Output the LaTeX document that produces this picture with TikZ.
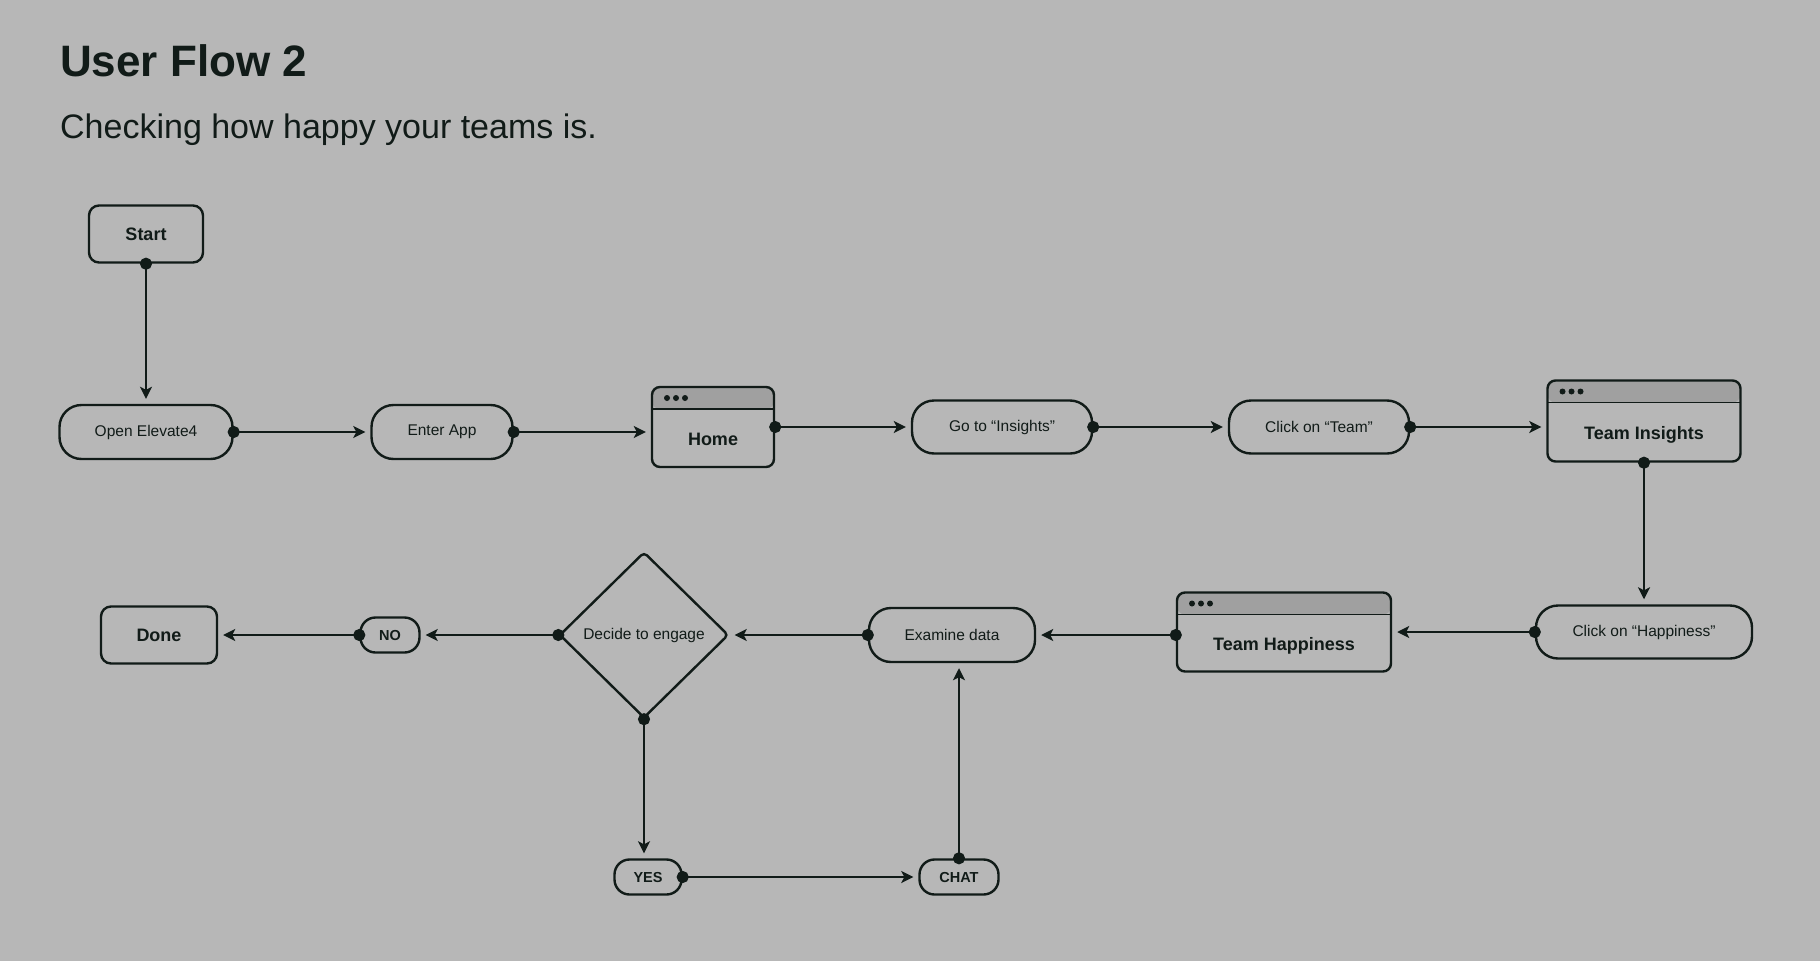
\documentclass[tikz,border=0pt]{standalone}
\usepackage{fontspec}
\setmainfont{Liberation Sans}
\usetikzlibrary{shapes.geometric,arrows.meta,positioning,calc}
\definecolor{bg}{HTML}{B7B7B7}
\definecolor{ink}{HTML}{111B18}
\definecolor{hdr}{HTML}{A0A0A0}

\begin{document}
\begin{tikzpicture}[x=1pt, y=-1pt,
    pill/.style={rectangle, draw=ink, line width=2.4pt, rounded corners=22pt, minimum height=54pt, text=ink, font=\fontsize{15.5}{18}\selectfont},
    tag/.style={rectangle, draw=ink, line width=2.4pt, rounded corners=15pt, minimum height=35pt, text=ink, font=\bfseries\fontsize{14.5}{16}\selectfont},
    endbox/.style={rectangle, draw=ink, line width=2.4pt, rounded corners=10pt, minimum height=57pt, text=ink, font=\bfseries\fontsize{18}{20}\selectfont},
    screen/.style={rectangle, draw=ink, line width=2.4pt, rounded corners=8pt, text=ink, font=\bfseries\fontsize{18}{20}\selectfont,
        text height=49pt, text depth=13pt, inner sep=2pt,
        path picture={
            \fill[hdr] (path picture bounding box.north west) rectangle ([yshift=-22pt]path picture bounding box.north east);
            \draw[ink, line width=1.8pt] ([yshift=-22pt]path picture bounding box.north west) -- ([yshift=-22pt]path picture bounding box.north east);
            \foreach \k in {0,1,2}
                \fill[ink] ([xshift=15pt+\k*9pt, yshift=-11pt]path picture bounding box.north west) circle (3pt);
        }},
    decision/.style={diamond, aspect=1, draw=ink, line width=2.4pt, rounded corners=4pt, minimum width=169pt, minimum height=166pt, inner sep=0pt, text=ink, font=\fontsize{15.5}{18}\selectfont},
    link/.style={ink, line width=2.6pt, {Circle[length=12pt]}-{Stealth[length=12pt, width=12pt, inset=3pt]}, shorten <=-6pt, shorten >=5pt}
]
\useasboundingbox[fill=bg] (0,0) rectangle (1820,961);

% heading
\node[anchor=base west, inner sep=0pt, text=ink, font=\bfseries\fontsize{44}{50}\selectfont] (title) at (60,76) {User Flow 2};
\node[anchor=base west, inner sep=0pt, text=ink, font=\fontsize{34}{40}\selectfont] (subtitle) at (60,138) {Checking how happy your teams is.};

% top row
\node[endbox, minimum width=114pt] (start) at (146,234) {Start};
\node[pill, minimum width=173pt] (open) at (146,432) {Open Elevate4};
\node[pill, minimum width=141pt] (enter) at (442,432) {Enter App};
\node[screen, minimum width=122pt, minimum height=80pt] (home) at (713,427) {Home};
\node[pill, minimum width=180pt, minimum height=53pt] (insightsbtn) at (1002,427) {Go to “Insights”};
\node[pill, minimum width=180pt, minimum height=53pt] (teambtn) at (1319,427) {Click on “Team”};
\node[screen, minimum width=193pt, minimum height=81pt] (insights) at (1644,421) {Team Insights};

% bottom row
\node[pill, minimum width=216pt, minimum height=53pt] (happybtn) at (1644,632) {Click on “Happiness”};
\node[screen, minimum width=214pt, minimum height=79pt] (happiness) at (1284,632) {Team Happiness};
\node[pill, minimum width=166pt] (examine) at (952,635) {Examine data};
\node[decision] (decide) at (644,635) {Decide to engage};
\node[tag, minimum width=59pt] (no) at (390,635) {NO};
\node[endbox, minimum width=116pt] (done) at (159,635) {Done};
\node[tag, minimum width=67pt] (yes) at (648,877) {YES};
\node[tag, minimum width=79pt] (chat) at (959,877) {CHAT};

% connectors
\draw[link] (start) -- (open);
\draw[link] (open) -- (enter);
\draw[link] (enter) -- (enter -| home.west);
\draw[link] (home) -- (insightsbtn);
\draw[link] (insightsbtn) -- (teambtn);
\draw[link] (teambtn) -- (teambtn -| insights.west);
\draw[link] (insights) -- (happybtn);
\draw[link] (happybtn) -- (happybtn -| happiness.east);
\draw[link] (happiness.west |- examine) -- (examine);
\draw[link] (examine) -- (decide);
\draw[link] (decide) -- (no);
\draw[link] (no) -- (done);
\draw[link] (decide.south) -- (decide.south |- yes.north);
\draw[link] (yes) -- (chat);
\draw[link] (chat.north) -- (chat.north |- examine.south);
\end{tikzpicture}
\end{document}
